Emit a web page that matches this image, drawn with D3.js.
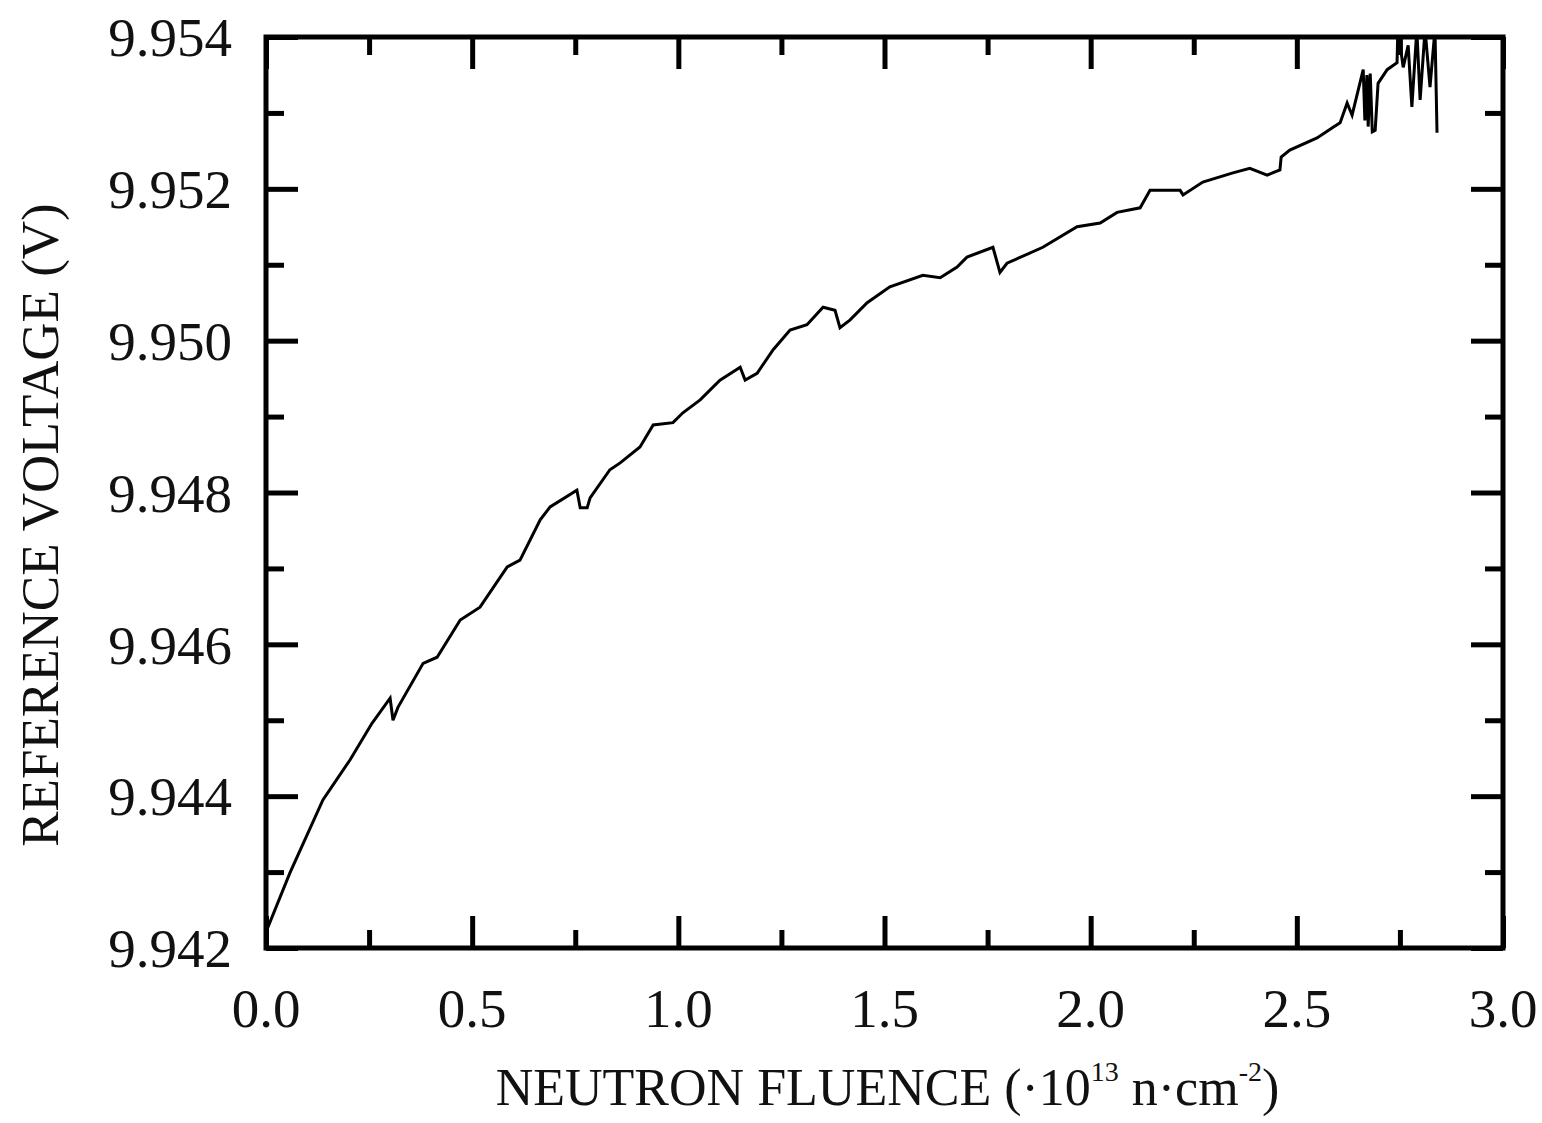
<!DOCTYPE html>
<html>
<head>
<meta charset="utf-8">
<script src="https://cdn.jsdelivr.net/npm/d3@7"></script>
<style>
  body { margin: 0; background: #fff; }
  text { font-family: "Liberation Serif", "Times New Roman", serif; fill: #111; }
</style>
</head>
<body>
<script>
// データ (中性子フルエンス ×10^13, 基準電圧 V)
var fluence = [0, 0.058, 0.138, 0.204, 0.257, 0.301, 0.308, 0.320, 0.381, 0.415,
  0.471, 0.519, 0.585, 0.616, 0.665, 0.689, 0.754, 0.762, 0.779, 0.786,
  0.834, 0.859, 0.907, 0.939, 0.987, 1.011, 1.053, 1.101, 1.150, 1.162,
  1.191, 1.230, 1.271, 1.312, 1.351, 1.380, 1.392, 1.416, 1.458, 1.513,
  1.593, 1.635, 1.676, 1.700, 1.763, 1.780, 1.797, 1.884, 1.967, 2.023,
  2.064, 2.120, 2.144, 2.217, 2.224, 2.272, 2.345, 2.386, 2.428, 2.459,
  2.462, 2.483, 2.549, 2.588, 2.605, 2.622, 2.634, 2.661, 2.665, 2.670,
  2.673, 2.678, 2.683, 2.690, 2.697, 2.719, 2.743, 2.745, 2.758, 2.770,
  2.779, 2.791, 2.799, 2.811, 2.823, 2.835, 2.840];
var voltage = [9.94221, 9.94299, 9.94395, 9.94448, 9.94496, 9.94529, 9.94500, 9.94517, 9.94575, 9.94583,
  9.94632, 9.94649, 9.94702, 9.94711, 9.94764, 9.94781, 9.94803, 9.94780, 9.94780, 9.94793,
  9.94830, 9.94839, 9.94860, 9.94889, 9.94892, 9.94905, 9.94922, 9.94948, 9.94965, 9.94948,
  9.94957, 9.94988, 9.95014, 9.95021, 9.95044, 9.95040, 9.95017, 9.95027, 9.95050, 9.95071,
  9.95086, 9.95083, 9.95097, 9.95110, 9.95123, 9.95090, 9.95102, 9.95123, 9.95150, 9.95155,
  9.95169, 9.95175, 9.95198, 9.95198, 9.95192, 9.95209, 9.95221, 9.95227, 9.95218, 9.95225,
  9.95242, 9.95251, 9.95267, 9.95281, 9.95287, 9.95313, 9.95297, 9.95357, 9.95290, 9.95350,
  9.95282, 9.95352, 9.95275, 9.95277, 9.95339, 9.95357, 9.95366, 9.95410, 9.95360, 9.95389,
  9.95308, 9.95410, 9.95317, 9.95410, 9.95334, 9.95410, 9.95274];

var xMajor = [0, 0.5, 1.0, 1.5, 2.0, 2.5, 3.0];
var xMinor = [0.25, 0.75, 1.25, 1.75, 2.25, 2.75];
var yMajor = [9.942, 9.944, 9.946, 9.948, 9.950, 9.952, 9.954];
var yMinor = [9.943, 9.945, 9.947, 9.949, 9.951, 9.953];

var data = fluence.map(function (f, i) { return { x: f, y: voltage[i] }; });

var svgWidth = 1542;
var svgHeight = 1123;
var plotL = 266, plotR = 1503, plotT = 37, plotB = 948;

var svg = d3.select("body").append("svg").attr("width", svgWidth).attr("height", svgHeight);

var x = d3.scaleLinear().domain([0, 3]).range([plotL, plotR]);
var y = d3.scaleLinear().domain([9.942, 9.954]).range([plotB, plotT]);

svg.append("clipPath").attr("id", "plot-clip")
    .append("rect")
    .attr("x", plotL).attr("y", plotT)
    .attr("width", plotR - plotL).attr("height", plotB - plotT);

// 目盛り (内向き、4辺)
function drawAxis(axis, tx, ty, vals, len) {
    var g = svg.append("g")
        .attr("transform", "translate(" + tx + "," + ty + ")")
        .call(axis.tickValues(vals).tickSize(-len).tickFormat(""));
    g.select(".domain").remove();
    g.selectAll(".tick line").attr("stroke", "#000").attr("stroke-width", 5);
    return g;
}
drawAxis(d3.axisBottom(x), 0, plotB, xMajor, 32);
drawAxis(d3.axisBottom(x), 0, plotB, xMinor, 18);
drawAxis(d3.axisTop(x), 0, plotT, xMajor, 32);
drawAxis(d3.axisTop(x), 0, plotT, xMinor, 18);
drawAxis(d3.axisLeft(y), plotL, 0, yMajor, 32);
drawAxis(d3.axisLeft(y), plotL, 0, yMinor, 18);
drawAxis(d3.axisRight(y), plotR, 0, yMajor, 32);
drawAxis(d3.axisRight(y), plotR, 0, yMinor, 18);

// 目盛りラベル
svg.selectAll(".xlabel")
    .data(xMajor)
    .enter()
    .append("text")
    .attr("class", "xlabel")
    .attr("x", function (d) { return x(d); })
    .attr("y", 1027)
    .attr("text-anchor", "middle")
    .attr("font-size", 55)
    .text(function (d) { return d3.format(".1f")(d); });

svg.selectAll(".ylabel")
    .data(yMajor)
    .enter()
    .append("text")
    .attr("class", "ylabel")
    .attr("x", 232)
    .attr("y", function (d) { return y(d); })
    .attr("dy", "0.35em")
    .attr("text-anchor", "end")
    .attr("font-size", 55)
    .text(function (d) { return d3.format(".3f")(d); });

// 曲線
var line = d3.line()
    .x(function (d) { return x(d.x); })
    .y(function (d) { return y(d.y); });

svg.append("path")
    .datum(data)
    .attr("clip-path", "url(#plot-clip)")
    .attr("fill", "none")
    .attr("stroke", "#000")
    .attr("stroke-width", 3)
    .attr("d", line);

// 枠
svg.append("rect")
    .attr("x", plotL).attr("y", plotT)
    .attr("width", plotR - plotL).attr("height", plotB - plotT)
    .attr("fill", "none")
    .attr("stroke", "#000")
    .attr("stroke-width", 5);

// 軸タイトル
var xt = svg.append("text")
    .attr("x", (plotL + plotR) / 2 + 3)
    .attr("y", 1105)
    .attr("text-anchor", "middle")
    .attr("font-size", 52);
xt.append("tspan").text("NEUTRON FLUENCE (·10");
xt.append("tspan").attr("font-size", 28).attr("dy", -24).text("13");
xt.append("tspan").attr("dy", 24).text(" n·cm");
xt.append("tspan").attr("font-size", 28).attr("dy", -24).text("-2");
xt.append("tspan").attr("dy", 24).text(")");

svg.append("text")
    .attr("transform", "translate(58,525) rotate(-90)")
    .attr("text-anchor", "middle")
    .attr("font-size", 53)
    .text("REFERENCE VOLTAGE (V)");
</script>
</body>
</html>
